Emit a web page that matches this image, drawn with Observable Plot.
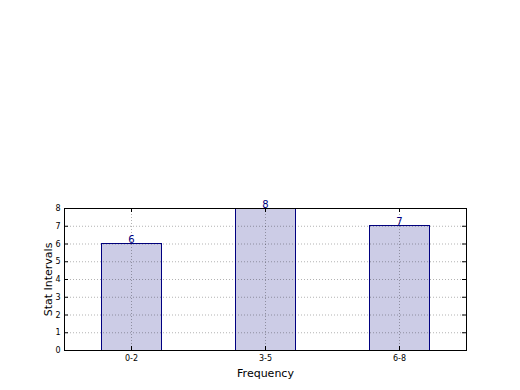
<!DOCTYPE html>
<html>
<head>
<meta charset="utf-8">
<script src="https://cdn.jsdelivr.net/npm/d3@7"></script>
<script src="https://cdn.jsdelivr.net/npm/@observablehq/plot@0.6"></script>
<style>
  html, body { margin: 0; padding: 0; background: #fff; }
  svg { font-family: "DejaVu Sans", sans-serif; }
</style>
</head>
<body>
<div id="chart"></div>
<script>
const categories = ["0-2", "3-5", "6-8"];
const values = [6, 8, 7];
const yTicks = [0, 1, 2, 3, 4, 5, 6, 7, 8];

const data = categories.map((c, i) => ({cat: c, value: values[i]}));

const chart = Plot.plot({
  width: 520,
  height: 390,
  marginLeft: 64,
  marginRight: 54,
  marginTop: 208,
  marginBottom: 40,
  style: {fontFamily: "DejaVu Sans, sans-serif", background: "#fff"},
  x: {type: "band", domain: categories, paddingInner: 0.55, paddingOuter: 0.275, label: null},
  y: {domain: [0, 8], label: null},
  marks: [
    Plot.barY(data, {x: "cat", y: "value", fill: "#ccccE6", stroke: "#000080", strokeWidth: 1, shapeRendering: "crispEdges"}),
    Plot.gridY(yTicks, {stroke: "#000", strokeOpacity: 0.3, strokeDasharray: "1,2", strokeWidth: 1}),
    Plot.gridX(categories, {stroke: "#000", strokeOpacity: 0.3, strokeDasharray: "1,2", strokeWidth: 1}),
    Plot.tickY(yTicks, {y: d => d, insetRight: 398, stroke: "#000"}),
    Plot.tickY(yTicks, {y: d => d, insetLeft: 398, stroke: "#000"}),
    Plot.tickX(categories, {x: d => d, insetTop: 138, stroke: "#000"}),
    Plot.tickX(categories, {x: d => d, insetBottom: 138, stroke: "#000"}),
    Plot.frame({stroke: "#000", strokeWidth: 1, shapeRendering: "crispEdges"}),
    Plot.axisY(yTicks, {tickSize: 0, tickPadding: 4, fontSize: 8, fill: "#000", label: null}),
    Plot.axisX(categories, {tickSize: 0, tickPadding: 5, fontSize: 8, fill: "#000", label: null}),
    Plot.text(data, {x: "cat", y: "value", text: d => String(d.value), lineAnchor: "bottom", dy: -1, fill: "#000080", fontSize: 10}),
    Plot.text(["Frequency"], {frameAnchor: "bottom", dy: 26, lineAnchor: "bottom", textAnchor: "middle", text: d => d, fontSize: 11, fill: "#000"}),
    Plot.text(["Stat Intervals"], {frameAnchor: "left", dx: -16, rotate: -90, textAnchor: "middle", text: d => d, fontSize: 11, fill: "#000"})
  ]
});
document.getElementById("chart").appendChild(chart);
</script>
</body>
</html>
